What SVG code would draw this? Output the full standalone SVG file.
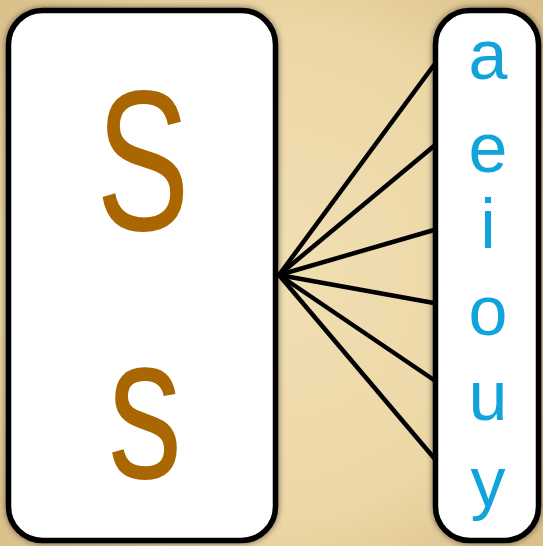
<svg xmlns="http://www.w3.org/2000/svg" width="543" height="546" viewBox="0 0 543 546">
<style>
.box{fill:#fff;stroke:#000;stroke-width:5.5;filter:url(#sh)}
.big{font-family:"Liberation Sans",Arial,sans-serif;fill:#aa6600;text-anchor:middle}
.v{font-family:"Liberation Sans",Arial,sans-serif;fill:#12a3db;font-size:70px;text-anchor:middle}
.ln{stroke:#000;stroke-width:4.5;stroke-linecap:round;fill:none}
</style>
<defs>
<radialGradient id="bg" cx="50%" cy="50%" r="75%">
<stop offset="0" stop-color="#f1dfb3"/>
<stop offset="0.6" stop-color="#ecd7a6"/>
<stop offset="1" stop-color="#d6ba84"/>
</radialGradient>
<filter id="sh" x="-10%" y="-10%" width="120%" height="120%">
<feDropShadow dx="0" dy="0" stdDeviation="3" flood-color="#000" flood-opacity="0.55"/>
</filter>
</defs>
<rect width="543" height="546" fill="url(#bg)"/>
<g id="connectors">
<line class="ln" x1="279" y1="275" x2="434" y2="65"/>
<line class="ln" x1="279" y1="275" x2="434" y2="146"/>
<line class="ln" x1="279" y1="275" x2="434" y2="230"/>
<line class="ln" x1="279" y1="275" x2="434" y2="303"/>
<line class="ln" x1="279" y1="275" x2="434" y2="380"/>
<line class="ln" x1="279" y1="275" x2="434" y2="458"/>
</g>
<g id="left">
<rect class="box" x="8.5" y="10.5" width="267" height="530" rx="34"/>
<text class="big" font-size="200" transform="translate(143,230) scale(0.7,1)">S</text>
<text class="big" font-size="206" transform="translate(145,478) scale(0.72,1)">s</text>
</g>
<g id="right">
<rect class="box" x="435.5" y="10.5" width="103" height="530" rx="34"/>
<text class="v" x="488" y="79">a</text>
<text class="v" x="488" y="172">e</text>
<text class="v" x="488" y="248">i</text>
<text class="v" x="488" y="335">o</text>
<text class="v" x="488" y="420">u</text>
<text class="v" x="488" y="506">y</text>
</g>
</svg>
